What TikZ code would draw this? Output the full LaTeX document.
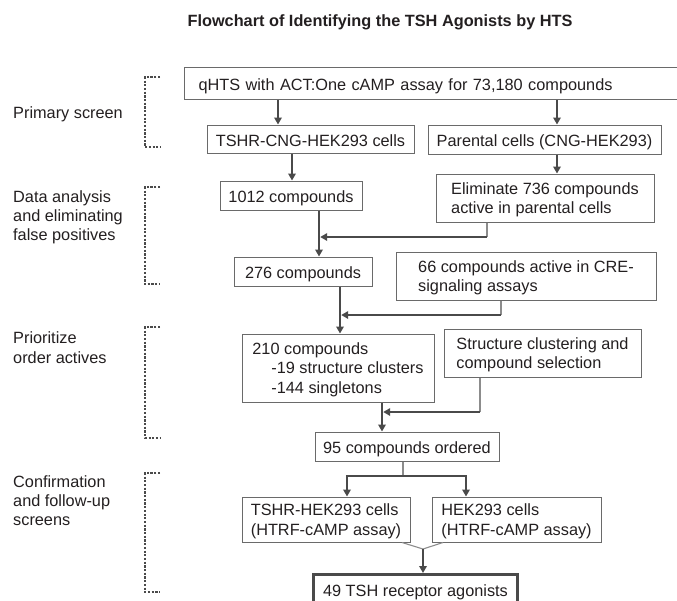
\documentclass[tikz,border=0pt]{standalone}
\usepackage{fontspec}
\setmainfont{Liberation Sans}
\usetikzlibrary{arrows.meta}
\definecolor{txt}{HTML}{231F20}
\definecolor{boxc}{HTML}{6A6A6A}
\definecolor{flowc}{HTML}{4A4A4A}
\definecolor{thinc}{HTML}{8C8C8C}
\begin{document}
\begin{tikzpicture}[x=1pt,y=-1pt,
  every node/.style={font=\fontsize{16.3}{19.2}\selectfont, text=txt},
  box/.style={draw=boxc, line width=1pt, inner sep=0pt, align=left, text depth=0pt},
  sl/.style={text height=14pt},
  flow/.style={draw=flowc, line width=2.4pt},
  thinline/.style={draw=thinc, line width=1.1pt},
  tip/.style={-{Triangle[length=7pt,width=7.5pt]}},
  bracket/.style={draw=flowc, line width=1.3pt, dash pattern=on 2.2pt off 1.5pt},
  lab/.style={anchor=west, align=left, inner sep=0pt, text depth=0pt}]
\clip (0,0) rectangle (677,600);

% title
\node[font=\fontsize{16.3}{19}\selectfont\bfseries] (title) at (380,22) {Flowchart of Identifying the TSH Agonists by HTS};

% left labels
\node[lab] (lprim) at (13,113) {Primary screen};
\node[lab] (ldata) at (13,215.5) {Data analysis\\and eliminating\\false positives};
\node[lab] (lprio) at (13,347.5) {Prioritize\\order actives};
\node[lab] (lconf) at (13,500.5) {Confirmation\\and follow-up\\screens};

% brackets
\draw[bracket] (160,77) -- (145,77) -- (145,147) -- (160,147);
\draw[bracket] (160,187) -- (145,187) -- (145,284) -- (160,284);
\draw[bracket] (160,327) -- (145,327) -- (145,438) -- (160,438);
\draw[bracket] (160,473) -- (145,473) -- (145,592) -- (160,592);

% boxes
\node[box, sl, anchor=north west, text width=488pt, inner xsep=14pt, minimum height=32pt] (qhts) at (184,67) {qHTS with ACT:One cAMP assay for 73,180 compounds};
\node[box, sl, minimum width=207pt, minimum height=28pt] (tcng) at (310.5,139) {TSHR-CNG-HEK293 cells};
\node[box, sl, minimum width=233pt, minimum height=29pt] (par) at (544.5,139.5) {Parental cells (CNG-HEK293)};
\node[box, minimum width=218pt, minimum height=48pt] (elim) at (545,198) {Eliminate 736 compounds\\active in parental cells};
\node[box, sl, minimum width=142pt, minimum height=29pt] (c1012) at (291,195.5) {1012 compounds};
\node[box, sl, minimum width=138pt, minimum height=29pt] (c276) at (303,271.5) {276 compounds};
\node[box, minimum width=260pt, minimum height=48pt] (c66) at (526,276) {66 compounds active in CRE-\\signaling assays};
\node[box, minimum width=192pt, minimum height=68pt] (c210) at (338,368) {210 compounds\\\hspace*{19pt}-19 structure clusters\\\hspace*{19pt}-144 singletons};
\node[box, minimum width=197pt, minimum height=48pt] (struct) at (542.5,353) {Structure clustering and\\compound selection};
\node[box, sl, minimum width=184pt, minimum height=29pt] (c95) at (407,446.5) {95 compounds ordered};
\node[box, minimum width=168pt, minimum height=45pt] (thek) at (326,519.5) {TSHR-HEK293 cells\\(HTRF-cAMP assay)};
\node[box, minimum width=169pt, minimum height=45pt] (hek) at (516.5,519.5) {HEK293 cells\\(HTRF-cAMP assay)};
\node[box, sl, draw=flowc, line width=3pt, anchor=north west, minimum width=204pt, minimum height=30pt] (final) at (312,573) {49 TSH receptor agonists};

% helper coordinates
\coordinate (xa) at (278,0);
\coordinate (xb) at (557,0);
\coordinate (xc) at (292,0);
\coordinate (m1) at (487,237);
\coordinate (j1) at (319,237);
\coordinate (m2) at (501,315);
\coordinate (j2) at (340,315);
\coordinate (m3) at (480,412);
\coordinate (j3) at (382,412);
\coordinate (m4) at (403,476);
\coordinate (bl) at (347,476);
\coordinate (br) at (466,476);
\coordinate (cl) at (402,0);
\coordinate (cr) at (443,0);
\coordinate (cv) at (423,549);

% connectors
\draw[flow,tip] (qhts.south -| xa) -- (tcng.north -| xa);
\draw[flow,tip] (qhts.south -| xb) -- (par.north -| xb);
\draw[flow,tip] (par.south -| xb) -- (elim.north -| xb);
\draw[flow,tip] (tcng.south -| xc) -- (c1012.north -| xc);

\draw[thinline] (elim.south -| m1) -- (m1);
\draw[flow,tip] (m1) -- ([xshift=1.2pt]j1);
\draw[flow,tip] (c1012.south -| j1) -- (c276.north -| j1);

\draw[thinline] (c66.south -| m2) -- (m2);
\draw[flow,tip] (m2) -- ([xshift=1.2pt]j2);
\draw[flow,tip] (c276.south -| j2) -- (c210.north -| j2);

\draw[thinline] (struct.south -| m3) -- (m3);
\draw[flow,tip] (m3) -- ([xshift=1.2pt]j3);
\draw[flow,tip] (c210.south -| j3) -- (c95.north -| j3);

\draw[thinline] (c95.south -| m4) -- (m4);
\draw[flow] ([xshift=-1.2pt]bl) -- ([xshift=1.2pt]br);
\draw[flow,tip] (bl) -- (thek.north -| bl);
\draw[flow,tip] (br) -- (hek.north -| br);

\draw[thinline] (thek.south -| cl) -- (cv) -- (hek.south -| cr);
\draw[flow,tip] (cv) -- (final.north -| cv);
\end{tikzpicture}
\end{document}
